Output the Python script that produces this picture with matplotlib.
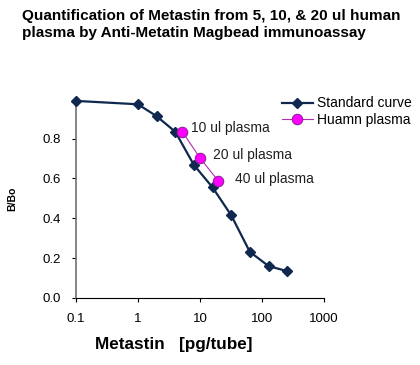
import matplotlib
matplotlib.use("Agg")
import matplotlib.pyplot as plt

plt.rcParams['font.family'] = ['Liberation Sans', 'DejaVu Sans']

# standard curve (0 pg plotted at 0.1)
std_x = [0.1, 1, 2, 4, 8, 16, 32, 64, 128, 256]
std_y = [0.99, 0.973, 0.913, 0.835, 0.668, 0.555, 0.415, 0.231, 0.16, 0.134]

# human plasma samples
plasma_x = [5.2, 10, 19.7]
plasma_y = [0.835, 0.704, 0.588]
plasma_labels = ["10 ul plasma", "20 ul plasma", "40 ul plasma"]

x_ticks = [0.1, 1, 10, 100, 1000]
x_ticklabels = ["0.1", "1", "10", "100", "1000"]
y_ticks = [0.0, 0.2, 0.4, 0.6, 0.8]

fig = plt.figure(figsize=(4.2, 3.65), dpi=100)
ax = fig.add_axes([0.181, 0.184, 0.590, 0.545])

navy = '#10284f'
ax.plot(std_x, std_y, color=navy, lw=1.6, marker='D', ms=5,
        mfc=navy, mec=navy, label='Standard curve', clip_on=False, zorder=3)
ax.plot(plasma_x, plasma_y, color='#b030b0', lw=0.8, marker='o', ms=7.5,
        mfc='#ff00ff', mec='#9020a0', mew=0.8, label='Huamn plasma',
        clip_on=False, zorder=4)

offsets = [(6, 3), (9.5, 2), (12, 1)]
for x, y, lab, off in zip(plasma_x, plasma_y, plasma_labels, offsets):
    ax.annotate(lab, (x, y), xytext=off, textcoords='offset points',
                fontsize=10, va='center', ha='left', color='#202020')

ax.set_xscale('log')
ax.set_xlim(0.1, 1000)
ax.set_ylim(0, 1.0)
ax.set_xticks(x_ticks)
ax.set_xticklabels(x_ticklabels)
ax.minorticks_off()
ax.set_yticks(y_ticks)
ax.set_yticklabels([f"{v:.1f}" for v in y_ticks])
ax.tick_params(labelsize=9.5, length=3, width=0.8, pad=8)

for s in ['top', 'right']:
    ax.spines[s].set_visible(False)
ax.spines['left'].set_color('#707070')
ax.spines['left'].set_linewidth(1.2)
ax.spines['bottom'].set_color('black')
ax.spines['bottom'].set_linewidth(0.8)

fig.text(174 / 420, 1 - 344 / 365, "Metastin   [pg/tube]", fontsize=12.3,
         fontweight='bold', ha='center', va='center')
ax.set_ylabel("B/Bo", fontsize=7.5, fontweight='bold', labelpad=18)

fig.text(0.052, 0.975, "Quantification of Metastin from 5, 10, & 20 ul human\n"
         "plasma by Anti-Metatin Magbead immunoassay",
         fontsize=11, fontweight='bold', va='top', ha='left', linespacing=1.3)

ax.legend(loc='upper left', bbox_to_anchor=(0.655, 0.755), bbox_transform=fig.transFigure,
          frameon=False, fontsize=10, handlelength=2.2, handletextpad=0.3,
          labelspacing=0.2, borderpad=0)

fig.savefig("out.png", dpi=100)
